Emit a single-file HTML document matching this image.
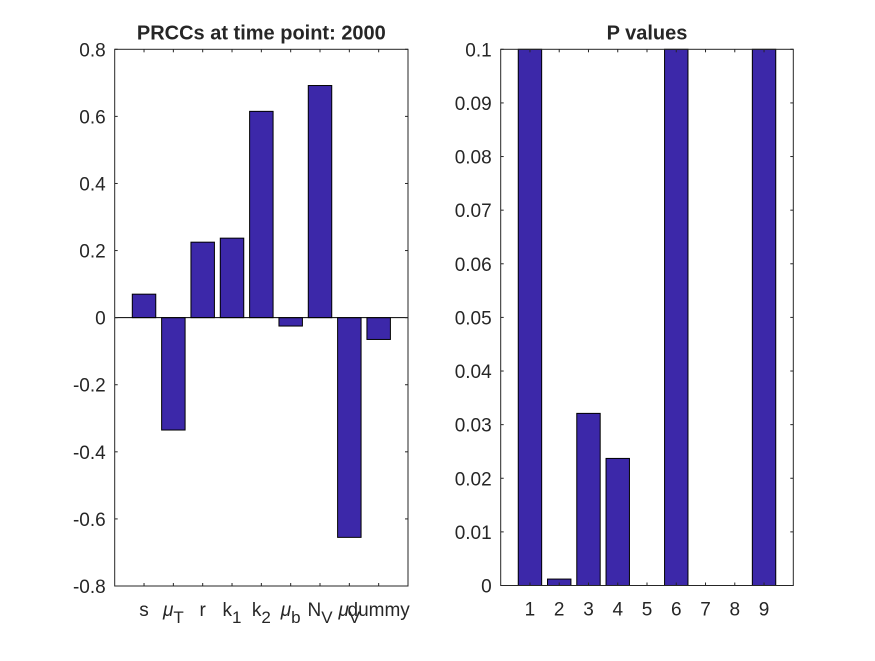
<!DOCTYPE html>
<html><head><meta charset="utf-8"><style>
body{margin:0;background:#fff;}
svg text{font-family:"Liberation Sans",sans-serif;fill:#262626;}
</style></head><body>
<svg id="c" width="875" height="656" xmlns="http://www.w3.org/2000/svg"></svg>
<script>
const prccLabels = ["s","μ|T","r","k|1","k|2","μ|b","N|V","μ|V","dummy"];
const prccValues = [0.07,-0.335,0.225,0.237,0.615,-0.025,0.692,-0.655,-0.065];
const prccTicks = [0.8,0.6,0.4,0.2,0,-0.2,-0.4,-0.6,-0.8];
const pLabels = ["1","2","3","4","5","6","7","8","9"];
const pValues = [0.5,0.0012,0.0321,0.0237,0,0.5,0,0,0.5];
const pTicks = [0.1,0.09,0.08,0.07,0.06,0.05,0.04,0.03,0.02,0.01,0];

const NS="http://www.w3.org/2000/svg";
const svg=document.getElementById('c');
function mk(t,a,p){const e=document.createElementNS(NS,t);for(const k in a)e.setAttribute(k,a[k]);(p||svg).appendChild(e);return e;}

function panel(x0,x1,y0,y1,ymin,ymax,vals,labels,ticks,title,name,fmt){
  const g=mk('g',{});
  
  
  const xs=i=>x0+(i+1)*(x1-x0)/10;
  const ys=v=>y1-(Math.max(ymin,Math.min(ymax,v))-ymin)/(ymax-ymin)*(y1-y0);
  const bw=0.8*(x1-x0)/10;
  mk('rect',{x:x0,y:y0,width:x1-x0,height:y1-y0,fill:'#fff'},g);
  vals.forEach((v,i)=>{
    const a=ys(v),b=ys(0);
    if(Math.abs(a-b)<0.01) return;
    const r=mk('rect',{x:xs(i)-bw/2,y:Math.min(a,b),width:bw,height:Math.abs(a-b),fill:'#3c28a9',stroke:'#000','stroke-width':1},g);
    
    
  });
  if(ymin<0&&ymax>0) mk('line',{x1:x0,x2:x1,y1:ys(0),y2:ys(0),stroke:'#000','stroke-width':1},g);
  mk('rect',{x:x0,y:y0,width:x1-x0,height:y1-y0,fill:'none',stroke:'#262626','stroke-width':1},g);
  ticks.forEach(t=>{
    const y=ys(t);
    mk('line',{x1:x0,x2:x0+3,y1:y,y2:y,stroke:'#262626'},g);
    mk('line',{x1:x1,x2:x1-3,y1:y,y2:y,stroke:'#262626'},g);
    const tx=mk('text',{x:x0-9,y:y+7,'text-anchor':'end','font-size':19},g);
    tx.textContent=fmt(t);
    
    
  });
  labels.forEach((l,i)=>{
    const x=xs(i);
    mk('line',{x1:x,x2:x,y1:y1,y2:y1-3,stroke:'#262626'},g);
    mk('line',{x1:x,x2:x,y1:y0,y2:y0+3,stroke:'#262626'},g);
    const parts=l.split('|');
    const tx=mk('text',{x:x,y:y1+30,'text-anchor':'middle','font-size':19},g);
    
    
    const s1=mk('tspan',{},tx);s1.textContent=parts[0];
    if(parts[0]==='μ') s1.setAttribute('font-style','italic');
    if(parts[1]){const s2=mk('tspan',{dy:7,'font-size':17},tx);s2.textContent=parts[1];}
  });
  const tt=mk('text',{x:(x0+x1)/2,y:y0-10,'text-anchor':'middle','font-size':20,'font-weight':'bold',fill:'#000'},g);
  tt.textContent=title;
  
  
}
panel(114.7,408,49.3,586,-0.8,0.8,prccValues,prccLabels,prccTicks,'PRCCs at time point: 2000','prcc-panel',t=>String(Math.round(t*10)/10));
panel(500.7,793.3,49.3,585.5,0,0.1,pValues,pLabels,pTicks,'P values','pvalue-panel',t=>String(Math.round(t*100)/100));
</script>
</body></html>
